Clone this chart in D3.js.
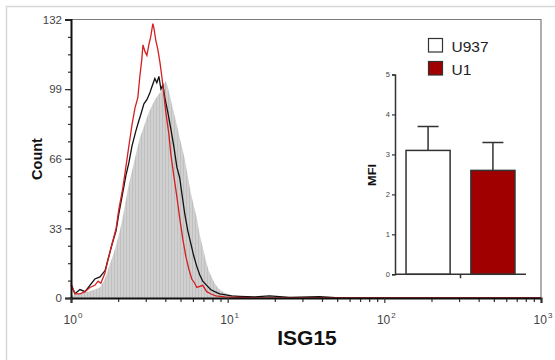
<!DOCTYPE html>
<html>
<meta charset="utf-8">
<style>
  body { margin: 0; background: #fff; }
  svg { display: block; font-family: "Liberation Sans", Arial, sans-serif; }
</style>
<body>
  <svg></svg>
</body>
<script src="https://d3js.org/d3.v7.min.js"></script>
<script>

  // histogram data: fluorescence intensity (ISG15) vs cell count
  var isoX = [1.00, 1.14, 1.28, 1.42, 1.53, 1.62, 1.70, 1.77, 1.85, 1.94, 2.02, 2.11, 2.21, 2.31, 2.41, 2.52, 2.63, 2.75,
    2.88, 3.00, 3.14, 3.28, 3.43, 3.58, 3.75, 3.91, 4.03, 4.15, 4.28, 4.40, 4.53, 4.67, 4.81, 4.94, 5.09, 5.32, 5.56,
    5.81, 6.07, 6.35, 6.63, 6.93, 7.24, 7.56, 7.90, 8.26, 8.63, 9.02, 9.58, 10.3, 11.3, 12.8, 16.0];
  var isoY = [1, 2, 3, 4, 5, 8, 12, 16, 20, 25, 30, 36, 44, 52, 58, 64, 70, 76,
    80, 84, 88, 91, 94, 96, 98, 101, 103, 100, 96, 92, 88, 84, 80, 76, 72, 66, 58,
    50, 44, 38, 30, 24, 18, 13, 10, 7, 5, 3.5, 2.5, 1.5, 1, 0.5, 0.3];

  var u937X = [1.00, 1.06, 1.14, 1.23, 1.32, 1.42, 1.53, 1.65, 1.72, 1.82, 1.94, 2.02, 2.14, 2.24, 2.34, 2.45, 2.59,
    2.71, 2.79, 2.92, 3.05, 3.18, 3.28, 3.43, 3.53, 3.64, 3.75, 3.86, 3.97, 4.15, 4.34, 4.53, 4.74, 4.94, 5.09, 5.32,
    5.56, 5.81, 6.07, 6.35, 6.63, 6.93, 7.35, 7.78, 8.26, 8.89, 9.73, 10.6, 11.9, 14.9, 18.5, 24.9, 38.6, 51.9, 1000];
  var u937Y = [6, 2, 4, 3, 6, 9, 10, 13, 18, 25, 32, 40, 50, 58, 64, 72, 79,
    84, 87, 92, 94, 97, 100, 104, 102, 105, 99, 101, 95, 88, 80, 72, 62, 57, 50, 40,
    32, 26, 20, 15, 11, 8, 6, 4, 3, 2, 1.5, 1, 0.8, 0.5, 1, 0.3, 0.6, 0, 0];

  var u1X = [1.00, 1.06, 1.14, 1.23, 1.32, 1.42, 1.49, 1.55, 1.65, 1.72, 1.82, 1.94, 2.02, 2.14, 2.24, 2.34, 2.45,
    2.56, 2.67, 2.75, 2.83, 2.88, 2.96, 3.05, 3.14, 3.23, 3.33, 3.38, 3.48, 3.58, 3.69, 3.80, 3.91, 4.03, 4.21, 4.34,
    4.53, 4.74, 4.94, 5.17, 5.40, 5.64, 5.90, 6.16, 6.35, 6.93, 7.35, 7.78, 8.38, 9.58, 11.9, 16.0, 60.1, 1000];
  var u1Y = [7, 2, 2, 3, 5, 6, 8, 7, 12, 18, 25, 33, 42, 52, 62, 72, 82,
    90, 95, 105, 113, 120, 117, 115, 120, 124, 130, 128, 122, 118, 112, 105, 97, 88, 78, 68,
    58, 48, 38, 28, 20, 14, 9, 7, 5, 6, 3, 2, 1, 0.5, 0.3, 0, 0, 0];

  // inset bar chart: mean fluorescence intensity
  var groups = ["U937", "U1"];
  var mfi = [3.1, 2.6];
  var mfiErr = [0.6, 0.7];
  var groupFill = ["#ffffff", "#a00000"];

  var yTicks = [0, 33, 66, 99, 132];
  var xTicks = [1, 10, 100, 1000];

  var svg = d3.select("svg")
    .attr("width", 555)
    .attr("height", 360);

  // light page frame
  svg.append("path")
    .attr("d", "M6.5,360V6.5H555")
    .attr("fill", "none")
    .attr("stroke", "#d8d8d8")
    .attr("stroke-width", 1.5);

  var x = d3.scaleLog().domain([1, 1000]).range([71, 541]);
  var y = d3.scaleLinear().domain([0, 132]).range([298, 19.5]);

  // fine stripe pattern for the gray control histogram
  var pat = svg.append("defs").append("pattern")
    .attr("id", "stripes")
    .attr("patternUnits", "userSpaceOnUse")
    .attr("width", 3).attr("height", 10);
  pat.append("rect").attr("width", 3).attr("height", 10).attr("fill", "#d0d0d0");
  pat.append("rect").attr("width", 1).attr("height", 10).attr("fill", "#c0c0c0");

  var iso = isoX.map((d, i) => [d, isoY[i]]);
  var u937 = u937X.map((d, i) => [d, u937Y[i]]);
  var u1 = u1X.map((d, i) => [d, u1Y[i]]);

  svg.append("path")
    .datum(iso)
    .attr("fill", "url(#stripes)")
    .attr("d", d3.area()
      .x(d => x(d[0])).y0(y(0)).y1(d => y(d[1])));

  var line = d3.line().x(d => x(d[0])).y(d => y(d[1]));

  svg.append("path")
    .datum(u937)
    .attr("fill", "none")
    .attr("stroke", "#111")
    .attr("stroke-width", 1.3)
    .attr("d", line);

  svg.append("path")
    .datum(u1)
    .attr("fill", "none")
    .attr("stroke", "#d31f1f")
    .attr("stroke-width", 1.3)
    .attr("d", line);

  // top and right frame
  svg.append("path")
    .attr("d", "M" + x(1) + "," + y(132) + "H" + x(1000) + "V" + y(0))
    .attr("fill", "none")
    .attr("stroke", "#7a7a7a")
    .attr("stroke-width", 1.2);

  // y axis with minor ticks
  var yAxis = svg.append("g")
    .attr("transform", "translate(" + x(1) + ",0)");
  yAxis.append("g")
    .call(d3.axisLeft(y).tickValues(d3.range(0, 132.1, 8.25)).tickSize(3).tickFormat(""))
    .call(g => g.select(".domain").remove());
  yAxis.append("g")
    .call(d3.axisLeft(y).tickValues(yTicks).tickSize(6).tickPadding(3))
    .call(g => g.select(".domain").attr("stroke-width", 2).attr("stroke", "#111"))
    .call(g => g.selectAll("text").attr("font-size", 11.5).attr("fill", "#444")
      .attr("font-family", "Liberation Sans, Arial, sans-serif"));
  yAxis.selectAll("line").attr("stroke", "#333").attr("stroke-width", 1.2);

  // x axis (log) with minor ticks
  var minor = [];
  [1, 10, 100].forEach(function (dec) {
    for (var k = 2; k <= 9; k++) minor.push(dec * k);
  });
  var xAxis = svg.append("g")
    .attr("transform", "translate(0," + y(0) + ")");
  xAxis.append("g")
    .call(d3.axisBottom(x).tickValues(minor).tickSize(4).tickFormat(""))
    .call(g => g.select(".domain").remove());
  xAxis.append("g")
    .call(d3.axisBottom(x).tickValues(xTicks).tickSize(5).tickFormat(""))
    .call(g => g.select(".domain").attr("stroke-width", 2).attr("stroke", "#111"));
  xAxis.selectAll("line").attr("stroke", "#333").attr("stroke-width", 1.2);

  var xl = svg.append("g").selectAll("text")
    .data(xTicks)
    .enter().append("text")
    .attr("x", d => x(d) + 2)
    .attr("y", 324)
    .attr("text-anchor", "middle")
    .attr("font-size", 12)
    .attr("fill", "#444");
  xl.append("tspan").text("10");
  xl.append("tspan")
    .attr("font-size", 8)
    .attr("dy", -6)
    .attr("dx", 1)
    .text(d => Math.round(Math.log10(d)));

  svg.append("text")
    .attr("transform", "translate(42,159) rotate(-90)")
    .attr("text-anchor", "middle")
    .attr("font-size", 14.5)
    .attr("font-weight", "bold")
    .attr("fill", "#111")
    .text("Count");

  svg.append("text")
    .attr("x", 307)
    .attr("y", 345)
    .attr("text-anchor", "middle")
    .attr("font-size", 21)
    .attr("font-weight", "bold")
    .attr("fill", "#111")
    .text("ISG15");

  // inset bar chart
  var bx = d3.scaleBand().domain(groups).range([395, 526])
    .paddingInner(0.32).paddingOuter(0.17);
  var by = d3.scaleLinear().domain([0, 5]).range([274.3, 74.5]);

  svg.append("g")
    .attr("transform", "translate(395,0)")
    .call(d3.axisLeft(by).ticks(5).tickSize(3).tickPadding(2))
    .call(g => g.select(".domain").attr("stroke", "#333").attr("stroke-width", 1.5))
    .call(g => g.selectAll("line").attr("stroke", "#333").attr("stroke-width", 1.2))
    .call(g => g.selectAll("text").attr("font-size", 7.5).attr("fill", "#444")
      .attr("font-family", "Liberation Sans, Arial, sans-serif"));

  var bars = svg.append("g");
  // error bars (upper only)
  bars.selectAll(".err")
    .data(groups)
    .enter().append("path")
    .attr("fill", "none")
    .attr("stroke", "#333")
    .attr("stroke-width", 1.5)
    .attr("d", function (d, i) {
      var cx = bx(d) + bx.bandwidth() / 2;
      return "M" + cx + "," + by(mfi[i]) + "V" + by(mfi[i] + mfiErr[i]) +
        "M" + (cx - 10.5) + "," + by(mfi[i] + mfiErr[i]) + "H" + (cx + 10.5);
    });
  bars.selectAll("rect")
    .data(groups)
    .enter().append("rect")
    .attr("x", d => bx(d))
    .attr("y", (d, i) => by(mfi[i]))
    .attr("width", bx.bandwidth())
    .attr("height", (d, i) => by(0) - by(mfi[i]))
    .attr("fill", (d, i) => groupFill[i])
    .attr("stroke", "#333")
    .attr("stroke-width", 1.5);

  // inset x axis with one centre tick
  var midX = (bx(groups[0]) + bx.bandwidth() + bx(groups[1])) / 2;
  svg.append("path")
    .attr("d", "M395," + by(0) + "H526M" + midX + "," + by(0) + "v4")
    .attr("stroke", "#333")
    .attr("stroke-width", 1.5);

  svg.append("text")
    .attr("transform", "translate(376,175) rotate(-90)")
    .attr("text-anchor", "middle")
    .attr("font-size", 11)
    .attr("font-weight", "bold")
    .attr("fill", "#111")
    .attr("textLength", 22)
    .attr("lengthAdjust", "spacingAndGlyphs")
    .text("MFI");

  // legend
  var leg = svg.append("g").selectAll("g")
    .data(groups)
    .enter().append("g")
    .attr("transform", (d, i) => "translate(428.5," + (38.5 + i * 23) + ")");
  leg.append("rect")
    .attr("width", 14)
    .attr("height", 13.5)
    .attr("fill", (d, i) => groupFill[i])
    .attr("stroke", "#333")
    .attr("stroke-width", 1.2);
  leg.append("text")
    .attr("x", 23)
    .attr("y", 13)
    .attr("font-size", 15.5)
    .attr("fill", "#222")
    .text(d => d);

</script>
</html>
